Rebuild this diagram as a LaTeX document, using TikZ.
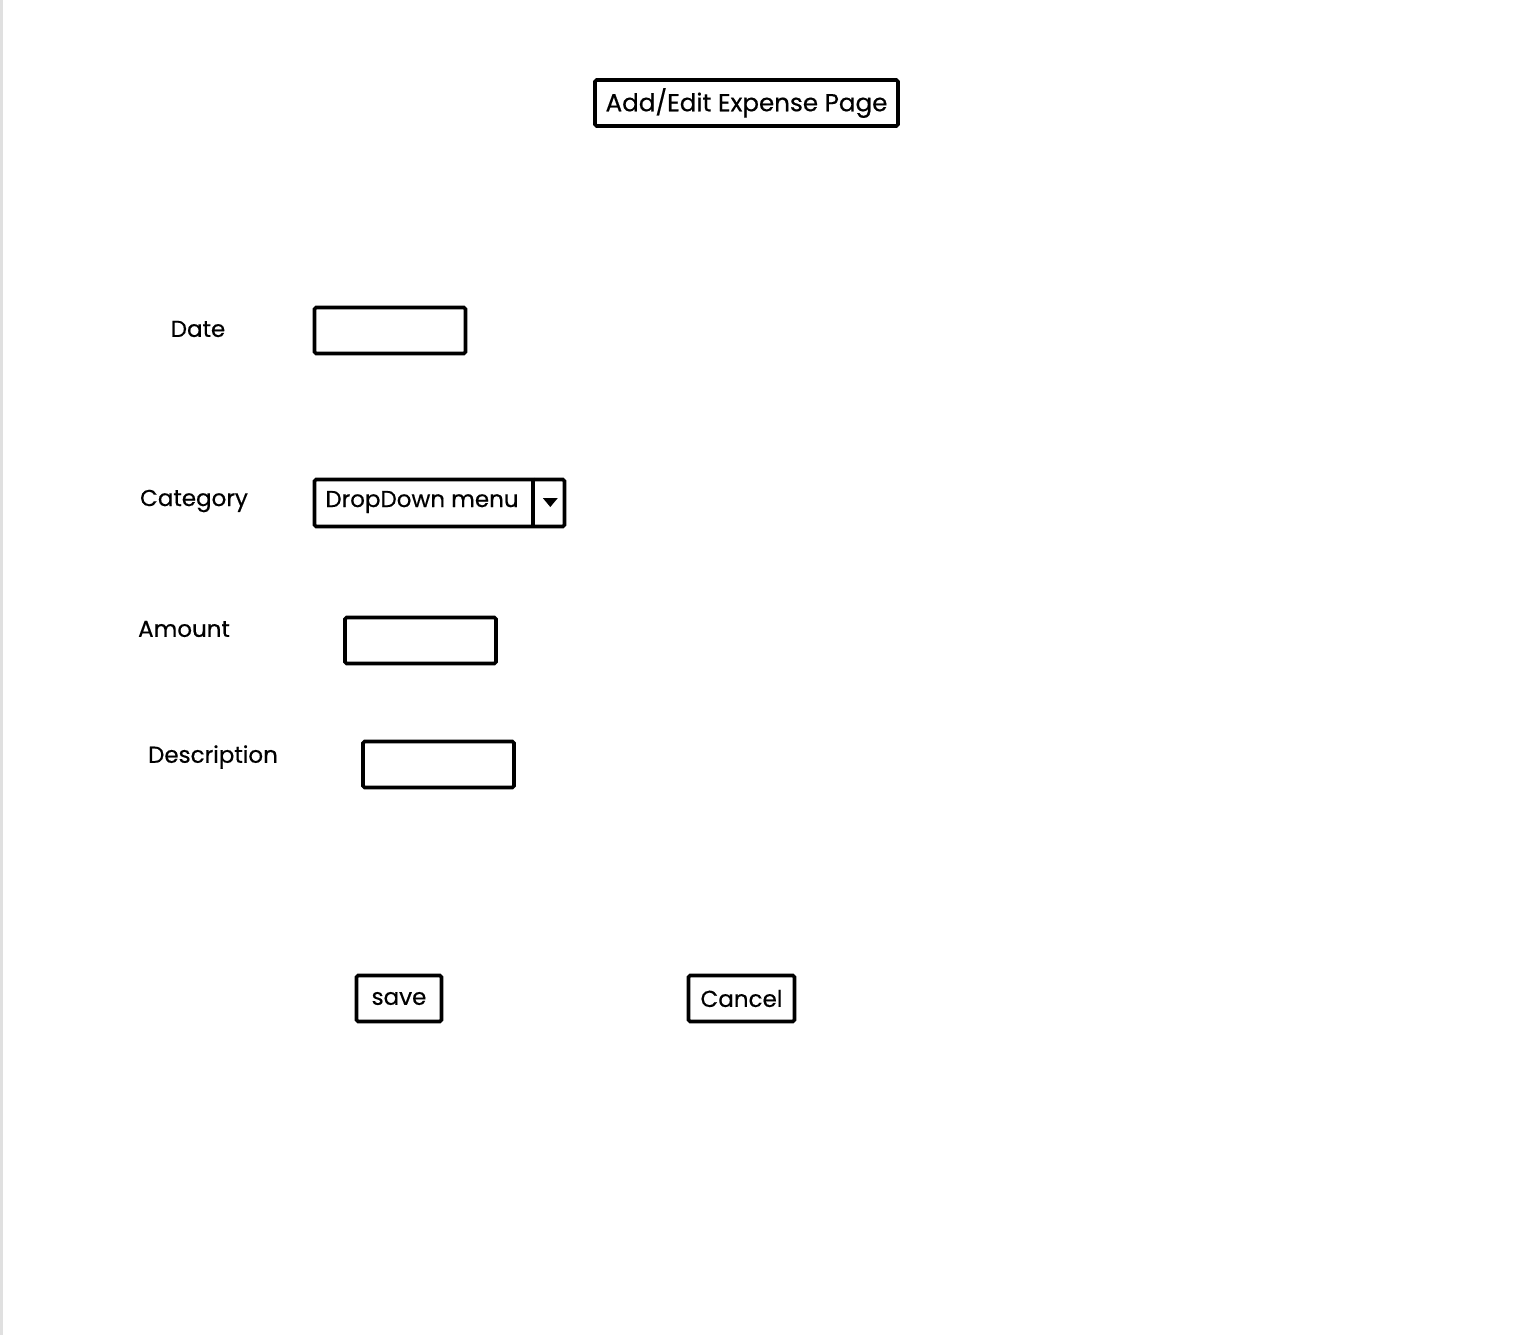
\documentclass[tikz,border=0pt]{standalone}
\usepackage{fontspec}
\setmainfont{Poppins}[FakeBold=0.5]
\begin{document}
\begin{tikzpicture}[x=0.5pt, y=-0.5pt,
        every node/.style={font=\fontsize{11.5}{14}\selectfont},
        field/.style={draw, line width=1.8pt, rounded corners=0.8pt, inner sep=0pt, minimum height=23pt},
        label/.style={inner sep=0pt}]
                \useasboundingbox (0,0) rectangle (1525,1335);
                \draw[black!12, line width=1.5pt] (1,0) -- (1,1335);

                % Title
                \node[field, minimum width=151.5pt, font=\fontsize{12.3}{14}\selectfont] at (746.5,103) (title) {Add/Edit Expense Page};

                % Labels
                \node[label] at (198,329) (date) {Date};
                \node[label] at (194,501) (category) {Category};
                \node[label] at (184,629) (amount) {Amount};
                \node[label] at (213,757) (description) {Description};

                % Fields
                \node[field, minimum width=75.5pt] at (390,330.5) (datebox) {};
                \node[field, minimum width=125pt, minimum height=23.5pt] at (439.5,503) (catbox) {};
                \node[label] at (422,502) (catmenu) {DropDown menu};
                \draw[line width=1.8pt] ([xshift=-16.75pt]catbox.north east) -- ([xshift=-16.75pt]catbox.south east);
                \fill ([xshift=-11.75pt, yshift=2.5pt]catbox.east) -- ++(7.5pt,0) -- ++(-3.75pt,-4.5pt) -- cycle;
                \node[field, minimum width=75.5pt] at (420.5,640.5) (amountbox) {};
                \node[field, minimum width=75.5pt] at (438.5,764.5) (descbox) {};

                % Buttons
                \node[field, minimum width=42.5pt] at (399,998.5) (save) {save};
                \node[field, minimum width=53pt] at (741.5,998.5) (cancel) {Cancel};
            \end{tikzpicture}
\end{document}
